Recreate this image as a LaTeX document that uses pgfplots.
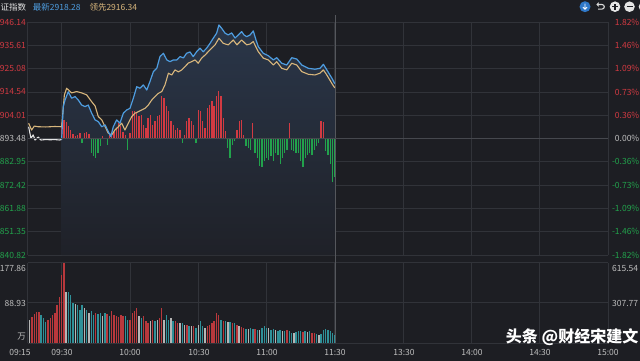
\documentclass[border=0pt]{standalone}
\usepackage{pgfplots}
\pgfplotsset{compat=1.18}
\usepackage{pgfplotstable}
\usepackage{fontspec}
\setmainfont{Noto Sans CJK SC}
\definecolor{bg}{HTML}{1D1E23}
\definecolor{gridc}{HTML}{313339}
\definecolor{gridb}{HTML}{55575C}
\definecolor{zeroc}{HTML}{46484E}
\definecolor{upred}{HTML}{D23A42}
\definecolor{dngreen}{HTML}{22A24C}
\definecolor{pblue}{HTML}{4E9DE0}
\definecolor{ptan}{HTML}{D8B67C}
\definecolor{pwhite}{HTML}{E4E4E4}
\definecolor{vred}{HTML}{B8383C}
\definecolor{vteal}{HTML}{2F9098}
\definecolor{vwhite}{HTML}{B5B5B5}
\definecolor{lbl}{HTML}{BEBEBE}
\definecolor{filltop}{HTML}{2A3649}
\definecolor{fillbot}{HTML}{1F2128}
\definecolor{icblue}{HTML}{2F78C8}
\newcommand\lf{\fontsize{8.5bp}{10bp}\selectfont}

% pre-open price (white) and leading index (tan); price after 09:30 (blue)
\pgfplotstableread{
t p
0.5 2898.8
1.5 2893.6
2.5 2895.1
3.3 2892.8
4.7 2894.1
5.9 2892.8
8 2893.0
10 2892.9
12 2893.0
14 2892.8
15 2893.0
}\whitetab
\pgfplotstableread{
t p
15 2893.0
15.7 2907.9
16.5 2910.9
17.9 2914.6
19.4 2911.7
20.9 2912.4
22.3 2910.9
23.8 2908.6
25.3 2907.9
26.7 2908.6
28.2 2904.9
29.7 2901.9
31.1 2901.1
32.6 2898.8
34.1 2899.6
35.5 2896.6
36.6 2894.3
37.7 2898.8
39.2 2901.9
40.6 2900.4
42.1 2904.9
43.6 2906.4
45.0 2907.1
46.5 2911.7
48.0 2916.9
49.4 2916.2
50.9 2917.7
52.4 2915.4
53.8 2919.2
55.3 2923.7
56.8 2925.2
58.2 2930.5
59.7 2932.0
61.2 2929.0
62.6 2928.2
64.1 2929.0
65.6 2929.0
67.0 2930.5
68.5 2929.9
69.9 2932.0
71.4 2932.6
72.8 2930.5
74.3 2932.7
75.8 2934.3
77.2 2932.7
78.7 2934.3
80.2 2936.5
81.6 2938.8
83.1 2941.1
84.1 2944.8
85.3 2943.3
86.8 2941.1
88.2 2940.3
89.7 2941.2
91.2 2938.9
92.6 2940.3
94.1 2941.8
95.1 2940.3
96.3 2939.5
97.8 2940.3
99.2 2942.1
100.4 2938.0
101.4 2935.0
103.6 2932.0
105.8 2930.9
108.0 2929.0
109.5 2930.0
111.7 2927.5
113.9 2926.7
116.1 2930.0
118.3 2929.4
120.5 2926.7
123.4 2925.2
126.3 2924.8
128.5 2925.2
130.0 2927.0
131.5 2924.5
133.7 2920.8
135 2918.28
}\bluetab
\pgfplotstableread{
t p
0.5 2900.4
1.8 2897.3
3.0 2899.1
4.7 2898.8
8 2898.7
12 2898.9
15 2898.8
16.2 2913.2
17.2 2916.2
19.4 2914.1
21.6 2914.7
23.8 2914.1
26.0 2913.2
28.2 2910.1
29.7 2908.2
31.1 2903.4
32.6 2901.9
34.1 2898.8
35.5 2895.9
37.0 2895.1
38.4 2897.3
39.9 2898.8
41.4 2900.4
42.8 2897.3
44.3 2900.4
45.8 2903.4
47.2 2904.9
48.7 2905.6
50.2 2906.4
51.6 2907.1
53.1 2908.6
54.6 2910.9
56.0 2912.4
57.5 2913.9
59.0 2914.7
60.4 2917.7
61.9 2923.0
63.4 2922.2
64.8 2924.5
66.3 2923.6
67.8 2924.5
69.2 2926.0
70.7 2927.6
72.1 2928.2
73.6 2929.0
75.0 2927.5
76.5 2929.8
78.0 2931.2
79.4 2932.7
80.9 2934.3
82.4 2935.8
84.1 2938.8
86.0 2936.5
88.2 2935.8
90.4 2938.0
92.0 2935.8
94.1 2938.0
96.3 2935.8
97.8 2936.2
99.2 2937.3
101.4 2932.7
103.6 2929.8
105.8 2929.0
108.0 2926.7
109.5 2928.2
111.7 2925.2
113.9 2924.5
116.1 2927.5
118.3 2926.7
120.5 2923.7
123.4 2922.5
126.3 2922.2
128.5 2923.0
130.0 2924.5
131.5 2922.2
133.7 2918.4
135 2916.34
}\tantab
% breadth bars (red up / green down), relative units
\pgfplotstableread{
t h
15 15
16 18
17 16
18 12
19 8
20 4
21 2
22 3
23 5
25 5
26 6
27 4
33 2
36 3
37 2
38 6
39 10
40 15
41 12
42 6
43 3
45 5
46 27
47 27
48 25
49 22
50 23
51 13
52 10
53 20
54 23
55 13
56 17
57 22
58 23
59 42
60 40
61 32
62 27
63 17
64 13
65 8
66 10
67 8
69 3
70 17
71 20
72 17
73 13
75 28
76 27
77 17
78 10
79 30
80 33
81 37
82 32
83 42
84 47
85 42
86 20
87 7
92 8
93 17
94 18
95 3
99 15
115 15
129 17
130 16
}\brtab
\pgfplotstableread{
t h
24 -5
28 -15
29 -18
30 -20
31 -15
32 -8
35 -7
44 -12
68 -5
74 -5
88 -10
89 -20
90 -7
91 -3
96 -8
97 -10
98 -12
100 -15
101 -20
102 -27
103 -28
104 -23
105 -20
106 -22
107 -18
108 -23
109 -15
110 -17
111 -25
112 -20
113 -15
114 -12
116 -12
117 -13
118 -15
119 -15
120 -23
121 -28
122 -20
123 -17
124 -15
125 -17
126 -12
127 -8
128 -5
131 -13
132 -17
133 -25
134 -43
135 -38
}\bgtab
% volume
\pgfplotstableread{
t v
2 57.6
3 64.2
4 68.7
5 68.7
9 50.9
10 55.4
11 62.0
12 66.5
13 84.2
14 101.9
15 150.6
16 177.5
30 66.5
35 64.2
37 70.9
38 62.0
39 59.8
40 57.6
41 62.0
42 59.8
45 50.9
46 66.5
47 70.9
48 77.5
51 59.8
52 48.7
53 44.3
55 50.9
58 55.4
59 77.5
65 48.7
66 44.3
70 39.9
73 37.7
79 37.7
80 39.9
81 44.3
82 48.7
83 66.5
84 62.0
86 48.7
90 44.3
92 39.9
94 35.4
95 33.2
100 31.0
114 28.8
121 24.4
125 22.2
126 22.2
}\vrtab
\pgfplotstableread{
t v
6 62.0
7 55.4
8 46.5
18 113.0
19 106.3
20 88.6
22 84.2
23 73.1
24 84.2
26 73.1
28 70.9
29 62.0
31 64.2
32 66.5
34 66.5
36 59.8
43 59.8
44 50.9
50 55.4
56 48.7
61 62.0
62 50.9
64 48.7
68 44.3
71 37.7
74 33.2
76 48.7
77 37.7
85 50.9
87 48.7
89 46.5
91 44.3
96 31.0
98 33.2
99 31.0
101 28.8
103 33.2
104 37.7
105 33.2
107 28.8
108 31.0
110 26.6
111 28.8
113 26.6
115 26.6
116 22.2
118 24.4
119 26.6
120 26.6
122 26.6
124 26.6
127 19.9
129 19.9
130 28.8
131 31.0
132 28.8
133 26.6
134 22.2
135 17.7
}\vttab
\pgfplotstableread{
t v
1 50.9
17 113.0
21 86.4
25 77.5
27 66.5
33 59.8
49 59.8
54 48.7
57 50.9
60 50.9
63 55.4
67 44.3
69 39.9
72 37.7
75 39.9
78 33.2
88 46.5
93 37.7
97 31.0
102 28.8
106 33.2
109 28.8
112 26.6
117 22.2
123 24.4
128 17.7
}\vwtab

\pgfplotsset{
  base/.style={scale only axis, width=580.4bp, xmin=0, xmax=255,
    enlargelimits=false, axis line style={draw=none},
    major tick length=0pt, xticklabels={}, yticklabels={},
    major grid style={draw=gridc, line width=0.8bp}},
  mainp/.style={base, at={(27.5bp,105bp)}, anchor=south west, height=233bp,
    ymin=2840.82, ymax=2946.14},
  volp/.style={base, at={(27.5bp,17bp)}, anchor=south west, height=80.3bp,
    ymin=0, ymax=177.86},
  tgrid/.style={xtick={0,15,45,75,105,135,165,195,225,255}, xmajorgrids},
}

\begin{document}
\begin{tikzpicture}[x=1bp,y=1bp]
\fill[bg] (-5,-5) rectangle (645,365);

% main panel: grid + shaded area under the price line
\begin{axis}[mainp, tgrid,
  ytick={2840.82,2851.35,2861.88,2872.42,2882.95,2893.48,2904.01,2914.54,2925.08,2935.61,2946.14},
  ymajorgrids]
\addplot[draw=none, top color=filltop, bottom color=fillbot] table {\bluetab}
  -- (axis cs:135,2840.82) -- (axis cs:15,2840.82) -- cycle;
\end{axis}

% main panel: breadth bars
\begin{axis}[mainp, ymin=-116.5, ymax=116.5, xtick=\empty, ytick=\empty]
\addplot[ycomb, draw=upred, line width=1.3bp] table {\brtab};
\addplot[ycomb, draw=dngreen, line width=1.3bp] table {\bgtab};
\end{axis}

% main panel: lines
\begin{axis}[mainp, xtick=\empty, ytick=\empty]
\addplot[pwhite, line width=1.1bp, line join=round] table {\whitetab};
\addplot[ptan, line width=1.1bp, line join=round] table {\tantab};
\addplot[pblue, line width=1.2bp, line join=round] table {\bluetab};
\end{axis}

% volume panel
\begin{axis}[volp, tgrid, ytick={0,88.93,177.86}, ymajorgrids]
\addplot[ycomb, draw=vred, line width=1.4bp] table {\vrtab};
\addplot[ycomb, draw=vteal, line width=1.4bp] table {\vttab};
\addplot[ycomb, draw=vwhite, line width=1.4bp] table {\vwtab};
\end{axis}

% lunch-break separator and zero line (decorations)
\draw[gridb, line width=1bp] (335,17) -- (335,345);
\draw[zeroc, line width=1bp] (27.5,221.5) -- (608,221.5);

% left / right scale labels of the main panel (left edge of the view is cropped)
\foreach \v/\p/\c [count=\i from 0] in {
  946.14/1.82\%/upred, 935.61/1.46\%/upred, 925.08/1.09\%/upred,
  914.54/0.73\%/upred, 904.01/0.36\%/upred, 893.48/0.00\%/lbl,
  882.95/-0.36\%/dngreen, 872.42/-0.73\%/dngreen, 861.88/-1.09\%/dngreen,
  851.35/-1.46\%/dngreen, 840.82/-1.82\%/dngreen}{
  \pgfmathsetmacro\yy{338-\i*23.3}
  \node[anchor=east, inner sep=0, text=\c, font=\lf] at (26,\yy) {\v};
  \node[anchor=east, inner sep=0, text=\c, font=\lf] at (639.5,\yy) {\p};
}
% volume labels
\node[anchor=east, inner sep=0, text=lbl, font=\lf] at (26,92) {177.86};
\node[anchor=east, inner sep=0, text=lbl, font=\lf] at (26,57) {88.93};
\node[anchor=east, inner sep=0, text=lbl, font=\lf] at (26,23) {万};
\node[anchor=west, inner sep=0, text=lbl, font=\lf] at (612,92) {615.54};
\node[anchor=west, inner sep=0, text=lbl, font=\lf] at (612,57) {307.77};

% time labels
\foreach \x/\s in {20/09:15, 62/09:30, 130/10:00, 199/10:30, 267/11:00,
  335/11:30, 404/13:30, 472/14:00, 540/14:30, 608/15:00}{
  \node[inner sep=0, text=lbl, font=\lf] at (\x,8) {\s};
}

% header
\node[anchor=west, inner sep=0, text=pwhite, font=\lf] at (0.5,353) {证指数};
\node[anchor=west, inner sep=0, text=pblue, font=\lf] at (32.7,353) {最新2918.28};
\node[anchor=west, inner sep=0, text=ptan, font=\lf] at (89.3,353) {领先2916.34};

% toolbar icons
\fill[icblue] (585,353.3) circle (5.5);
\draw[white, line width=0.9bp] (585,356.3) -- (585,350.8) (583,352.8) -- (585,350.8) -- (587,352.8);
\draw[white!85!black, line width=1.1bp] (597,355.5) -- (602,355.5) arc (90:-90:2.3) -- (598,350.9);
\draw[white!85!black, line width=1bp] (598.8,357.3) -- (597,355.5) -- (598.8,353.7);
\fill[white!90!black] (615,353.3) circle (5.3);
\draw[bg, line width=1.3bp] (612,353.3) -- (618,353.3) (615,350.3) -- (615,356.3);
\fill[white!90!black] (629.5,353.3) circle (5.3);
\draw[bg, line width=1.3bp] (626.5,353.3) -- (632.5,353.3);
\fill[white!90!black] (644,353.3) circle (5.3);

% watermark
\node[anchor=east, inner sep=0, text=white, font=\fontsize{16bp}{17bp}\selectfont\bfseries] at (638.5,23) {头条 @财经宋建文};

\pgfresetboundingbox
\useasboundingbox (0,0) rectangle (640,360);
\end{tikzpicture}
\end{document}
